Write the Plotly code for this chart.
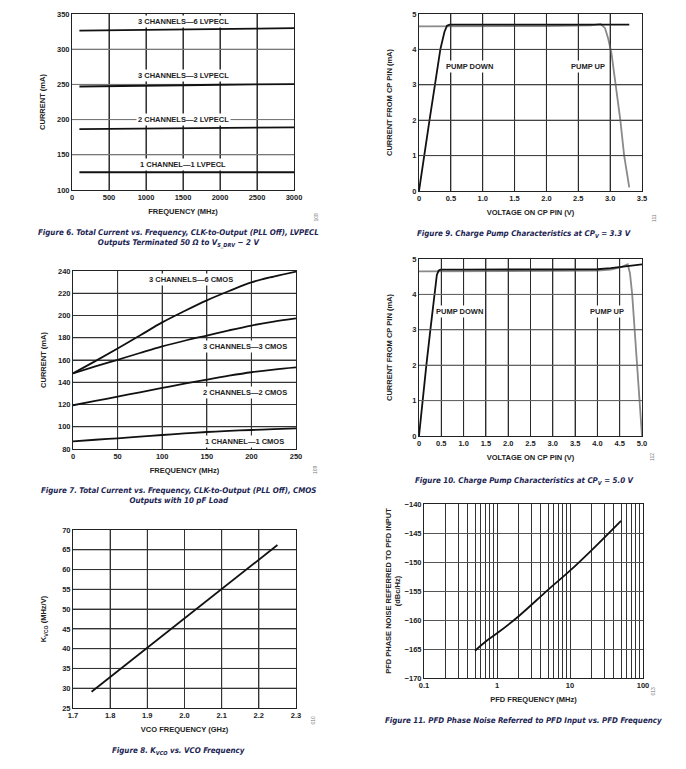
import plotly.graph_objects as go

# ---------------- data ----------------
# Figure 6: LVPECL total current vs frequency
f6_freq = [100, 500, 1000, 1500, 2000, 2500, 3000]
lv_3ch_6 = [326.5, 326.8, 327.3, 328.0, 328.7, 329.3, 330.0]
lv_3ch_3 = [247.0, 247.3, 248.0, 248.8, 249.5, 250.0, 250.5]
lv_2ch_2 = [186.6, 186.8, 187.3, 187.8, 188.3, 188.7, 189.0]
lv_1ch_1 = [125.2, 125.2, 125.2, 125.2, 125.2, 125.2, 125.2]

# Figure 7: CMOS total current vs frequency
f7_freq = [0, 25, 50, 75, 100, 125, 150, 175, 200, 225, 250]
cm_3ch_6 = [148, 159, 170.4, 182, 193.8, 204, 213.6, 222, 229.8, 235, 239.4]
cm_3ch_3 = [148, 154.2, 160.2, 166.3, 172.2, 177.3, 182, 186.7, 191, 194.5, 197.4]
cm_2ch_2 = [119.3, 123.2, 127.1, 131, 134.9, 138.7, 142.4, 145.9, 149, 151.4, 153.3]
cm_1ch_1 = [86.9, 88.3, 89.6, 91.1, 92.6, 94, 95.3, 96.3, 97.1, 97.9, 98.6]

# Figure 8: KVCO vs VCO frequency
vco_freq = [1.75, 1.8, 1.9, 2.0, 2.1, 2.2, 2.25]
kvco = [29.1, 32.8, 40.1, 47.6, 55.1, 62.5, 66.2]

# Figure 9: charge pump at CPV = 3.3 V
cp33_down_v = [0, 0.079, 0.165, 0.25, 0.335, 0.40, 0.44, 0.48, 1.0, 2.0, 2.8, 3.3]
cp33_down_i = [0, 1.0, 2.0, 3.0, 4.0, 4.5, 4.67, 4.7, 4.7, 4.7, 4.7, 4.7]
cp33_up_v = [0, 1.0, 2.0, 2.7, 2.85, 2.92, 2.97, 3.02, 3.09, 3.16, 3.22, 3.30]
cp33_up_i = [4.65, 4.65, 4.66, 4.68, 4.72, 4.6, 4.3, 3.9, 3.0, 2.0, 1.0, 0.1]

# Figure 10: charge pump at CPV = 5.0 V
cp50_down_v = [0, 0.075, 0.165, 0.255, 0.345, 0.40, 0.44, 0.48, 1.0, 2.0, 3.0, 3.5, 4.0, 4.3, 4.6, 4.8, 5.0]
cp50_down_i = [0, 1.0, 2.0, 3.0, 4.0, 4.55, 4.67, 4.7, 4.7, 4.7, 4.7, 4.7, 4.71, 4.74, 4.78, 4.81, 4.85]
cp50_up_v = [0, 1.0, 2.0, 3.0, 4.0, 4.3, 4.55, 4.68, 4.73, 4.78, 4.85, 4.94, 5.0]
cp50_up_i = [4.65, 4.65, 4.65, 4.65, 4.67, 4.7, 4.78, 4.85, 4.6, 4.0, 2.8, 1.0, 0.0]

# Figure 11: PFD phase noise vs PFD frequency
pfd_freq = [0.5, 0.7, 1, 2, 5, 10, 20, 50]
pfd_noise = [-165.3, -163.7, -162.3, -159.3, -154.8, -151.5, -147.9, -142.9]

# tick labels
f6_xticks = [0, 500, 1000, 1500, 2000, 2500, 3000]
f6_yticks = [100, 150, 200, 250, 300, 350]
f7_xticks = [0, 50, 100, 150, 200, 250]
f7_yticks = [80, 100, 120, 140, 160, 180, 200, 220, 240]
f8_xticks = [1.7, 1.8, 1.9, 2.0, 2.1, 2.2, 2.3]
f8_xtext = ["1.7", "1.8", "1.9", "2.0", "2.1", "2.2", "2.3"]
f8_yticks = [25, 30, 35, 40, 45, 50, 55, 60, 65, 70]
f9_xticks = [0, 0.5, 1.0, 1.5, 2.0, 2.5, 3.0, 3.5]
f9_xtext = ["0", "0.5", "1.0", "1.5", "2.0", "2.5", "3.0", "3.5"]
f9_yticks = [0, 1, 2, 3, 4, 5]
f10_xticks = [0, 0.5, 1.0, 1.5, 2.0, 2.5, 3.0, 3.5, 4.0, 4.5, 5.0]
f10_xtext = ["0", "0.5", "1.0", "1.5", "2.0", "2.5", "3.0", "3.5", "4.0", "4.5", "5.0"]
f10_yticks = [0, 1, 2, 3, 4, 5]
f11_xticks = [0.1, 1, 10, 100]
f11_xtext = ["0.1", "1", "10", "100"]
f11_minor = [0.2, 0.3, 0.4, 0.5, 0.6, 0.7, 0.8, 0.9, 2, 3, 4, 5, 6, 7, 8, 9,
             20, 30, 40, 50, 60, 70, 80, 90]
f11_yticks = [-170, -165, -160, -155, -150, -145, -140]

# ---------------- layout helpers ----------------
W, H = 686, 769
FONT = "Liberation Sans, Arial, sans-serif"
CAP_FONT = "DejaVu Sans Condensed, Liberation Sans, sans-serif"
CAP_COLOR = "#1b2452"


def xd(x0, x1):
    return [x0 / W, x1 / W]


def yd(top, bottom):
    return [1 - bottom / H, 1 - top / H]


tickfont = dict(family=FONT, size=7.5, color="#222", weight="bold")
titlefont = dict(family=FONT, size=7.5, color="#222", weight="bold")


def axis(domain, anchor, rng, tickvals, title, standoff, ticktext=None,
         gridcolor="#333", typ=None):
    a = dict(domain=domain, anchor=anchor, range=rng,
             tickmode="array", tickvals=tickvals,
             showgrid=True, gridcolor=gridcolor, gridwidth=1,
             showline=True, mirror=True, linecolor="#222", linewidth=1,
             zeroline=False, ticks="", tickfont=tickfont, automargin=False,
             title=dict(text=title, font=titlefont, standoff=standoff),
             fixedrange=True)
    if typ:
        a["type"] = typ
    if ticktext is not None:
        a["ticktext"] = ticktext
    return a


fig = go.Figure()

line_k = dict(color="#111", width=1.8)
line_g = dict(color="#8a8a8a", width=1.8)

# Figure 6 (xaxis/yaxis)
for ys in [lv_3ch_6, lv_3ch_3, lv_2ch_2, lv_1ch_1]:
    fig.add_trace(go.Scatter(x=f6_freq, y=ys, mode="lines", line=line_k,
                             xaxis="x", yaxis="y", showlegend=False))
# Figure 9 (x2/y2)
fig.add_trace(go.Scatter(x=cp33_up_v, y=cp33_up_i, mode="lines", line=line_g,
                         xaxis="x2", yaxis="y2", showlegend=False))
fig.add_trace(go.Scatter(x=cp33_down_v, y=cp33_down_i, mode="lines", line=line_k,
                         xaxis="x2", yaxis="y2", showlegend=False))
# Figure 7 (x3/y3)
for ys in [cm_3ch_6, cm_3ch_3, cm_2ch_2, cm_1ch_1]:
    fig.add_trace(go.Scatter(x=f7_freq, y=ys, mode="lines", line=line_k,
                             line_shape="spline",
                             xaxis="x3", yaxis="y3", showlegend=False))
# Figure 10 (x4/y4)
fig.add_trace(go.Scatter(x=cp50_up_v, y=cp50_up_i, mode="lines", line=line_g,
                         xaxis="x4", yaxis="y4", showlegend=False))
fig.add_trace(go.Scatter(x=cp50_down_v, y=cp50_down_i, mode="lines", line=line_k,
                         xaxis="x4", yaxis="y4", showlegend=False))
# Figure 8 (x5/y5)
fig.add_trace(go.Scatter(x=vco_freq, y=kvco, mode="lines", line=line_k,
                         xaxis="x5", yaxis="y5", showlegend=False))
# Figure 11 (x6/y6)
fig.add_trace(go.Scatter(x=pfd_freq, y=pfd_noise, mode="lines", line=line_k,
                         line_shape="spline",
                         xaxis="x6", yaxis="y6", showlegend=False))

dom = {
    "f6": (xd(72, 294), yd(14, 190)),
    "f9": (xd(419, 642), yd(14, 191)),
    "f7": (xd(73, 296), yd(271, 449)),
    "f10": (xd(419, 642), yd(259, 436)),
    "f8": (xd(73, 296), yd(530, 708)),
    "f11": (xd(424, 643), yd(504, 678)),
}

layout = dict(
    width=W, height=H, margin=dict(l=0, r=0, t=0, b=0, autoexpand=False),
    paper_bgcolor="white", plot_bgcolor="rgba(255,255,255,0)", showlegend=False,
    font=dict(family=FONT, color="#222"),
    xaxis=axis(dom["f6"][0], "y", [0, 3000], f6_xticks, "FREQUENCY (MHz)", 7),
    yaxis=axis(dom["f6"][1], "x", [100, 350], f6_yticks, "CURRENT (mA)", 10, gridcolor="#777"),
    xaxis2=axis(dom["f9"][0], "y2", [0, 3.5], f9_xticks, "VOLTAGE ON CP PIN (V)", 7, f9_xtext),
    yaxis2=axis(dom["f9"][1], "x2", [0, 5], f9_yticks, "CURRENT FROM CP PIN (mA)", 18, gridcolor="#444"),
    xaxis3=axis(dom["f7"][0], "y3", [0, 250], f7_xticks, "FREQUENCY (MHz)", 7),
    yaxis3=axis(dom["f7"][1], "x3", [80, 240], f7_yticks, "CURRENT (mA)", 10),
    xaxis4=axis(dom["f10"][0], "y4", [0, 5], f10_xticks, "VOLTAGE ON CP PIN (V)", 7, f10_xtext),
    yaxis4=axis(dom["f10"][1], "x4", [0, 5], f10_yticks, "CURRENT FROM CP PIN (mA)", 18, gridcolor="#666"),
    xaxis5=axis(dom["f8"][0], "y5", [1.7, 2.3], f8_xticks, "VCO FREQUENCY (GHz)", 7, f8_xtext),
    yaxis5=axis(dom["f8"][1], "x5", [25, 70], f8_yticks, "K<sub>VCO</sub> (MHz/V)", 14),
    xaxis6=axis(dom["f11"][0], "y6", [-1, 2], f11_xticks, "PFD FREQUENCY (MHz)", 7, f11_xtext,
                typ="log"),
    yaxis6=axis(dom["f11"][1], "x6", [-170, -140], f11_yticks,
                "PFD PHASE NOISE REFERRED TO PFD INPUT<br>(dBc/Hz)", 2, gridcolor="#555"),
)
layout["xaxis6"]["minor"] = dict(tickvals=f11_minor, showgrid=True, gridcolor="#333",
                                 gridwidth=1, ticks="")

shapes = []


def grid(xr, yr, xticks, yticks, vcol, hcol):
    """Grid lines at the tick values, positioned by the subplot's own axes."""
    for v in xticks[1:-1]:
        shapes.append(dict(type="line", xref=xr, yref=yr + " domain", x0=v, x1=v, y0=0, y1=1,
                           line=dict(color=vcol, width=1), layer="below"))
    for v in yticks[1:-1]:
        shapes.append(dict(type="line", xref=xr + " domain", yref=yr, x0=0, x1=1, y0=v, y1=v,
                           line=dict(color=hcol, width=1), layer="below"))


def grid_paper(key, xticks, yticks, vcol, hcol):
    """Same grid lines for the charge-pump panels, positioned as fractions of the panel."""
    (xa, xb), (ya, yb) = dom[key]
    x_lo, x_hi = xticks[0], xticks[-1]
    y_lo, y_hi = yticks[0], yticks[-1]
    for v in xticks[1:-1]:
        px = xa + (v - x_lo) / (x_hi - x_lo) * (xb - xa)
        shapes.append(dict(type="line", xref="paper", yref="paper", x0=px, x1=px, y0=ya, y1=yb,
                           line=dict(color=vcol, width=1), layer="above"))
    for v in yticks[1:-1]:
        py = ya + (v - y_lo) / (y_hi - y_lo) * (yb - ya)
        shapes.append(dict(type="line", xref="paper", yref="paper", x0=xa, x1=xb, y0=py, y1=py,
                           line=dict(color=hcol, width=1), layer="above"))


grid("x", "y", f6_xticks, f6_yticks, "#1a1a1a", "#777")
grid("x3", "y3", f7_xticks, f7_yticks, "#1a1a1a", "#333")
grid("x5", "y5", f8_xticks, f8_yticks, "#1a1a1a", "#222")
grid_paper("f9", f9_xticks, f9_yticks, "#2a2a2a", "#444")
grid_paper("f10", f10_xticks, f10_yticks, "#2a2a2a", "#666")
layout["shapes"] = shapes

ann = []
lab_font = dict(family=FONT, size=7.5, color="#222", weight="bold")


def lab(text, x, y, xr, yr):
    ann.append(dict(text=text, x=x, y=y, xref=xr, yref=yr, showarrow=False,
                    font=lab_font, bgcolor="white", borderpad=1,
                    xanchor="center", yanchor="middle"))


lab("3 CHANNELS—6 LVPECL", 1500, 339, "x", "y")
lab("3 CHANNELS—3 LVPECL", 1500, 262, "x", "y")
lab("2 CHANNELS—2 LVPECL", 1500, 200, "x", "y")
lab("1 CHANNEL—1 LVPECL", 1500, 136, "x", "y")

lab("3 CHANNELS—6 CMOS", 132, 232.5, "x3", "y3")
lab("3 CHANNELS—3 CMOS", 193, 172.3, "x3", "y3")
lab("2 CHANNELS—2 CMOS", 193, 131, "x3", "y3")
lab("1 CHANNEL—1 CMOS", 192, 86.6, "x3", "y3")

lab("PUMP DOWN", 0.785, 3.52, "x2", "y2")
lab("PUMP UP", 2.65, 3.52, "x2", "y2")
lab("PUMP DOWN", 0.90, 3.51, "x4", "y4")
lab("PUMP UP", 4.22, 3.51, "x4", "y4")

cap_font = dict(family=CAP_FONT, size=7.9, color=CAP_COLOR, weight="bold", style="italic")


def cap(text, px, py):
    ann.append(dict(text=text, x=px / W, y=1 - py / H, xref="paper", yref="paper",
                    showarrow=False, font=cap_font, xanchor="center", yanchor="top",
                    align="center"))


cap("Figure 6. Total Current vs. Frequency, CLK-to-Output (PLL Off), LVPECL<br>"
    "Outputs Terminated 50 Ω to V<sub>S_DRV</sub> − 2 V", 178, 226)
cap("Figure 7. Total Current vs. Frequency, CLK-to-Output (PLL Off), CMOS<br>"
    "Outputs with 10 pF Load", 178, 484)
cap("Figure 8. K<sub>VCO</sub> vs. VCO Frequency", 178, 744)
cap("Figure 9. Charge Pump Characteristics at CP<sub>V</sub> = 3.3 V", 524, 227)
cap("Figure 10. Charge Pump Characteristics at CP<sub>V</sub> = 5.0 V", 524, 474)
cap("Figure 11. PFD Phase Noise Referred to PFD Input vs. PFD Frequency", 523, 714)

id_font = dict(family=FONT, size=5, color="#777")
for t, px, py in [("108", 315, 211), ("111", 659, 212), ("109", 315, 470),
                  ("112", 657, 457), ("010", 312, 727), ("013", 657, 698)]:
    ann.append(dict(text=t, x=px / W, y=1 - py / H, xref="paper", yref="paper",
                    showarrow=False, font=id_font, textangle=-90))

layout["annotations"] = ann
fig.update_layout(**layout)
fig.write_html("out.html", config={"displayModeBar": False},
               post_script="document.body.style.margin='0';")
